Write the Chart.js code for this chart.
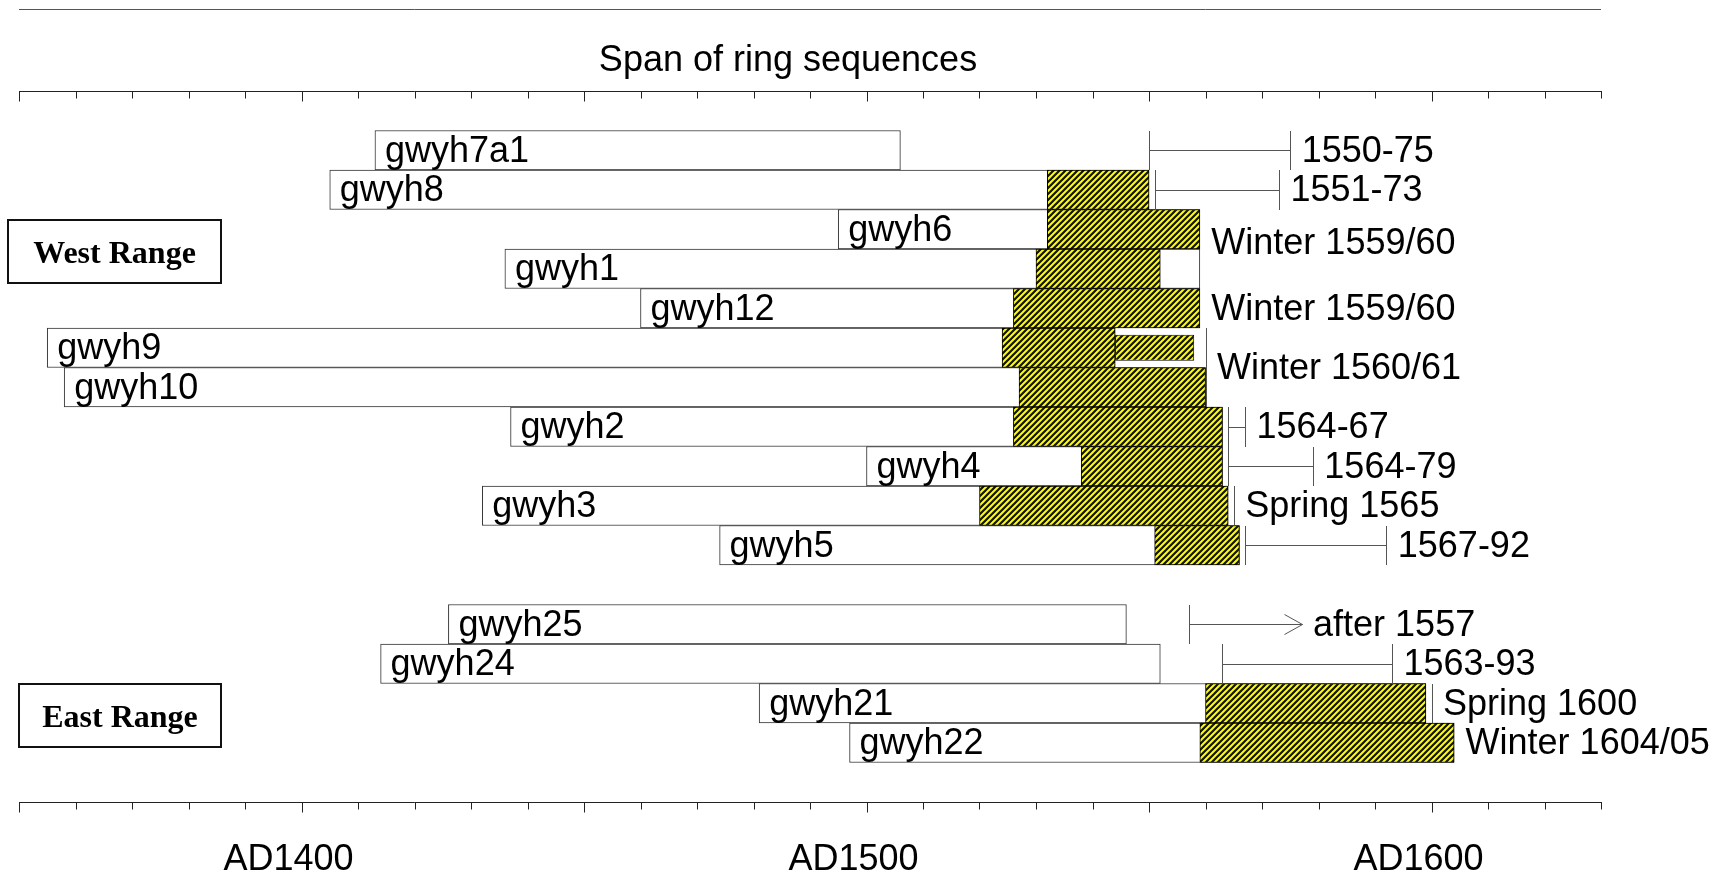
<!DOCTYPE html>
<html>
<head>
<meta charset="utf-8">
<script src="https://cdn.jsdelivr.net/npm/chart.js@4.4.1/dist/chart.umd.min.js"></script>
<style>
html,body{margin:0;padding:0;background:#fff;}
#wrap{width:1735px;height:882px;position:relative;}
</style>
</head>
<body>
<div id="wrap"><canvas id="c"></canvas></div>
<script>
// ---------------- DATA ----------------
const chartTitle = 'Span of ring sequences';
const rangeNames = ['West Range', 'East Range'];
const westSamples = ['gwyh7a1','gwyh8','gwyh6','gwyh1','gwyh12','gwyh9','gwyh10','gwyh2','gwyh4','gwyh3','gwyh5'];
const eastSamples = ['gwyh25','gwyh24','gwyh21','gwyh22'];
// values below follow the sample order: west samples, then east samples
const seqStart   = [1413,1405,1495,1436,1460,1355,1358,1437,1500,1432,1474, 1426,1414,1481,1497];
const seqEnd     = [1506,1550,1559,1559,1559,1544,1560,1563,1563,1564,1566, 1546,1552,1599,1604];
const sapStart   = [null,1532,1532,1530,1526,1524,1527,1526,1538,1520,1551, null,null,1560,1559];
const sapEnd     = [null,1550,1559,1552,1559,1544,1560,1563,1563,1564,1566, null,null,1599,1604];
const extraStart = [null,null,null,null,null,1544,null,null,null,null,null, null,null,null,null];
const extraEnd   = [null,null,null,null,null,1558,null,null,null,null,null, null,null,null,null];
// felling date estimates
const fellKind   = ['range','range','none',null,'none','bar','bar','range','range','bar','range', 'after','range','bar','none'];
const fellFrom   = [1550,1551,1559,null,1559,1560,1560,1564,1564,1565,1567, 1557,1563,1600,1604];
const fellTo     = [1575,1573,1559,null,1559,1560,1560,1567,1579,1565,1592, 1577,1593,1600,1604];
const fellLabel  = ['1550-75','1551-73','Winter 1559/60','','Winter 1559/60','Winter 1560/61','','1564-67','1564-79','Spring 1565','1567-92', 'after 1557','1563-93','Spring 1600','Winter 1604/05'];
// axis
const axisMin = 1350, axisMax = 1630, tickStep = 10, majorStep = 50, labelStep = 100, tickPrefix = 'AD';

// ---------------- BUILD ----------------
const allSamples = westSamples.concat(eastSamples);
const rowLabels = [''].concat(westSamples, [''], eastSamples, ['']);
function sampleIndexOfRow(r) {
  if (r >= 1 && r <= westSamples.length) return r - 1;
  const e0 = westSamples.length + 2;
  if (r >= e0 && r < e0 + eastSamples.length) return westSamples.length + (r - e0);
  return -1;
}
function rowOfSample(i) {
  return i < westSamples.length ? i + 1 : i - westSamples.length + westSamples.length + 2;
}
function seriesFrom(a, b) {
  return rowLabels.map((_, r) => {
    const i = sampleIndexOfRow(r);
    if (i < 0 || a[i] == null || b[i] == null) return null;
    return [a[i], b[i]];
  });
}

// hatch pattern
function makeHatch() {
  const s = 6;
  const c = document.createElement('canvas');
  c.width = s; c.height = s;
  const g = c.getContext('2d');
  g.fillStyle = '#ffff00';
  g.fillRect(0, 0, s, s);
  g.strokeStyle = '#141400';
  g.lineWidth = 2.2;
  g.beginPath();
  g.moveTo(0, s); g.lineTo(s, 0);
  g.moveTo(-s/2, s/2); g.lineTo(s/2, -s/2);
  g.moveTo(s/2, s*1.5); g.lineTo(s*1.5, s/2);
  g.stroke();
  return g.createPattern(c, 'repeat');
}
const hatch = makeHatch();

const FONT = '"Liberation Sans", Arial, sans-serif';
const LABEL_ROW_SHIFT = {2: 0.34, 5: 0.5};

const overlay = {
  id: 'overlay',
  afterDatasetsDraw(chart) {
    const {ctx, chartArea: ca, scales} = chart;
    const x = scales.x, y = scales.y;
    const rowH = Math.abs(y.getPixelForValue(1) - y.getPixelForValue(0));
    const px = v => Math.round(x.getPixelForValue(v)) + 0.5;
    ctx.save();

    // top rule
    ctx.strokeStyle = '#555'; ctx.lineWidth = 1;
    ctx.beginPath(); ctx.moveTo(ca.left, 9.5); ctx.lineTo(ca.right, 9.5); ctx.stroke();

    // title
    ctx.fillStyle = '#000';
    ctx.font = '36px ' + FONT;
    ctx.textAlign = 'center'; ctx.textBaseline = 'alphabetic';
    ctx.fillText(chartTitle, 788, 71);

    // axes (top and bottom) with ticks from the x scale
    ctx.strokeStyle = '#222'; ctx.lineWidth = 1;
    const axisYs = [Math.round(ca.top) + 0.5, Math.round(ca.bottom) + 0.5];
    axisYs.forEach(ay => {
      ctx.beginPath(); ctx.moveTo(ca.left, ay); ctx.lineTo(ca.right + 1, ay); ctx.stroke();
      x.ticks.forEach(t => {
        const tx = px(t.value);
        const len = (t.value % majorStep === 0) ? 10 : 7;
        ctx.beginPath(); ctx.moveTo(tx, ay); ctx.lineTo(tx, ay + len); ctx.stroke();
      });
    });

    // sample labels inside bars
    ctx.font = '36px ' + FONT;
    ctx.textAlign = 'left'; ctx.textBaseline = 'alphabetic';
    ctx.fillStyle = '#000';
    allSamples.forEach((name, i) => {
      const cy = y.getPixelForValue(rowOfSample(i));
      ctx.fillText(name, x.getPixelForValue(seqStart[i]) + 10, cy + 11.5);
    });

    // felling markers
    ctx.strokeStyle = '#555'; ctx.lineWidth = 1;
    allSamples.forEach((name, i) => {
      const k = fellKind[i];
      if (!k) return;
      const cy = y.getPixelForValue(rowOfSample(i));
      const top = Math.round(cy - rowH / 2), bot = Math.round(cy + rowH / 2);
      const mid = Math.round(cy) + 0.5;
      const x1 = px(fellFrom[i]), x2 = px(fellTo[i]);
      ctx.beginPath();
      if (k === 'range') {
        ctx.moveTo(x1, top); ctx.lineTo(x1, bot);
        ctx.moveTo(x1, mid); ctx.lineTo(x2, mid);
        ctx.moveTo(x2, top); ctx.lineTo(x2, bot);
      } else if (k === 'bar') {
        ctx.moveTo(x1, top); ctx.lineTo(x1, bot);
      } else if (k === 'after') {
        ctx.moveTo(x1, top); ctx.lineTo(x1, bot);
        ctx.moveTo(x1, mid); ctx.lineTo(x2, mid);
        ctx.moveTo(x2 - 18, mid - 10); ctx.lineTo(x2, mid); ctx.lineTo(x2 - 18, mid + 10);
      }
      ctx.stroke();
      if (fellLabel[i]) {
        const shift = (LABEL_ROW_SHIFT[i] || 0) * rowH;
        ctx.fillText(fellLabel[i], x.getPixelForValue(fellTo[i]) + 11.5, cy + shift + 11.5);
      }
    });

    // range boxes
    ctx.font = 'bold 32px "Liberation Serif", "Times New Roman", serif';
    ctx.textAlign = 'center';
    ctx.strokeStyle = '#111'; ctx.lineWidth = 2;
    const boxes = [[8, 220, 213, 63, rangeNames[0]], [19, 684, 202, 63, rangeNames[1]]];
    boxes.forEach(([bx, by, bw, bh, txt]) => {
      ctx.strokeRect(bx, by, bw, bh);
      ctx.fillText(txt, bx + bw / 2, by + bh / 2 + 11);
    });

    ctx.restore();
  }
};

new Chart(document.getElementById('c'), {
  type: 'bar',
  data: {
    labels: rowLabels,
    datasets: [
      {
        label: 'Ring sequence',
        data: seriesFrom(seqStart, seqEnd),
        backgroundColor: '#ffffff',
        borderColor: '#333333',
        borderWidth: 1,
        borderSkipped: false,
        grouped: false,
        barPercentage: 1,
        categoryPercentage: 1,
        order: 3
      },
      {
        label: 'Sapwood',
        data: seriesFrom(sapStart, sapEnd),
        backgroundColor: hatch,
        borderColor: '#000000',
        borderWidth: 1,
        borderSkipped: false,
        grouped: false,
        barPercentage: 1,
        categoryPercentage: 1,
        order: 2
      },
      {
        label: 'Sapwood (unmeasured)',
        data: seriesFrom(extraStart, extraEnd),
        backgroundColor: hatch,
        borderColor: '#000000',
        borderWidth: 1,
        borderSkipped: false,
        grouped: false,
        barPercentage: 0.66,
        categoryPercentage: 1,
        order: 1
      }
    ]
  },
  options: {
    indexAxis: 'y',
    responsive: true,
    maintainAspectRatio: false,
    animation: false,
    layout: { padding: { top: 91, left: 19, right: 134, bottom: 0 } },
    plugins: { legend: { display: false }, tooltip: { enabled: false }, title: { display: false } },
    scales: {
      x: {
        type: 'linear',
        position: 'bottom',
        min: axisMin,
        max: axisMax,
        grid: { display: false },
        border: { display: false },
        ticks: {
          stepSize: tickStep,
          autoSkip: false,
          maxRotation: 0,
          minRotation: 0,
          padding: 28,
          labelOffset: -13,
          color: '#000',
          font: { family: FONT, size: 36 },
          callback: v => (v % labelStep === 0 ? tickPrefix + v : '')
        },
        afterFit: s => { s.height = 80; s.paddingLeft = 0; s.paddingRight = 0; }
      },
      y: {
        type: 'category',
        display: false,
        offset: true,
        grid: { display: false }
      }
    }
  },
  plugins: [overlay]
});
</script>
</body>
</html>
